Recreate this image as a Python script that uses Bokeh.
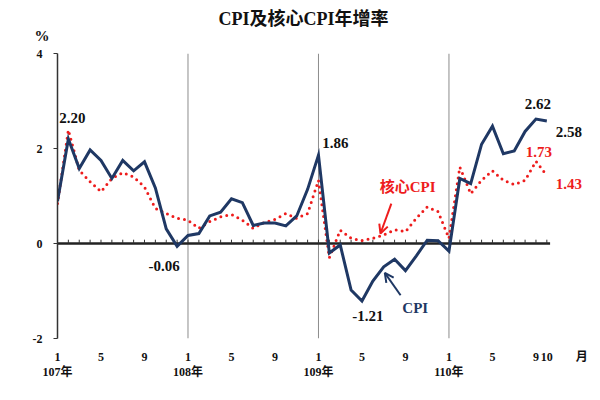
import numpy as np
from bokeh.plotting import figure
from bokeh.models import (ColumnDataSource, Range1d, LinearAxis, FixedTicker,
                          Label, Arrow, OpenHead, Title)
from bokeh.embed import file_html
from bokeh.resources import INLINE

# 107年1月 ... 110年10月, 年增率 (%)
months = list(range(46))
cpi = [0.89, 2.20, 1.58, 1.97, 1.75, 1.37, 1.75, 1.53, 1.72, 1.17, 0.31, -0.06,
       0.17, 0.21, 0.58, 0.66, 0.94, 0.86, 0.38, 0.43, 0.43, 0.37, 0.58, 1.14,
       1.86, -0.20, -0.03, -0.98, -1.21, -0.79, -0.49, -0.33, -0.57, -0.26, 0.07, 0.06,
       -0.16, 1.37, 1.26, 2.09, 2.47, 1.89, 1.95, 2.36, 2.62, 2.58]
core = [0.84, 2.39, 1.54, 1.30, 1.09, 1.37, 1.49, 1.40, 1.19, 0.74, 0.63, 0.53,
        0.49, 0.32, 0.46, 0.56, 0.61, 0.49, 0.32, 0.44, 0.51, 0.63, 0.53, 0.63,
        1.33, -0.30, 0.28, 0.11, 0.06, 0.11, 0.18, 0.29, 0.25, 0.53, 0.77, 0.67,
        0.11, 1.61, 1.05, 1.33, 1.53, 1.33, 1.24, 1.33, 1.73, 1.43]

month_ticks = [0, 4, 8, 12, 16, 20, 24, 28, 32, 36, 40, 44, 45]
month_labels = ["1", "5", "9", "1", "5", "9", "1", "5", "9", "1", "5", "9", "10"]
unit_tick = 48.2            # 「月」字的位置
year_ticks = [0, 12, 24, 36]
year_labels = ["107年", "108年", "109年", "110年"]
y_ticks = [-2, 0, 2, 4]
y_labels = ["-2", "0", "2", "4"]

FONT = "'Liberation Serif', 'Noto Sans CJK TC', serif"
NAVY = "#1F3864"
RED = "#EE1C1C"
INK = "#111111"

source = ColumnDataSource(data={'m': months, 'cpi': cpi, 'core': core})

p = figure(width=592, height=392, output_backend="svg", toolbar_location=None,
           x_range=Range1d(0, 49.2), y_range=Range1d(-2, 4),
           min_border_left=57, min_border_right=0,
           min_border_top=53, min_border_bottom=54)
p.outline_line_color = None
p.grid.visible = False

# 標題 + 單位
p.title.text = "CPI及核心CPI年增率"
p.title.align = "left"
p.title.offset = 161
p.title.text_font = FONT
p.title.text_font_style = "bold"
p.title.text_font_size = "18px"
p.title.text_color = INK
p.title.standoff = -26
p.add_layout(Title(text="%", align="left", offset=-23, standoff=20,
                   text_font=FONT, text_font_style="bold",
                   text_font_size="15px", text_color=INK), "above")

# 左軸
p.yaxis.ticker = FixedTicker(ticks=y_ticks)
p.yaxis.major_label_overrides = {t: s for t, s in zip(y_ticks, y_labels)}
p.yaxis.major_tick_in = 0
p.yaxis.major_tick_out = 4
p.yaxis.minor_tick_line_color = None
p.yaxis.axis_line_width = 1.5
p.yaxis.axis_line_color = "#333333"
p.yaxis.major_tick_line_color = "#333333"
p.yaxis.major_label_standoff = 11
p.yaxis.major_label_text_font = FONT
p.yaxis.major_label_text_font_style = "bold"
p.yaxis.major_label_text_font_size = "12px"
p.yaxis.major_label_text_color = INK

# 月份
xa = p.xaxis[0]
xa.ticker = FixedTicker(ticks=month_ticks + [unit_tick])
overrides = {t: s for t, s in zip(month_ticks, month_labels)}
overrides[unit_tick] = "月"
xa.major_label_overrides = overrides
xa.axis_line_color = None
xa.major_tick_line_color = None
xa.minor_tick_line_color = None
xa.major_tick_out = 0
xa.major_label_standoff = 11
xa.major_label_text_font = FONT
xa.major_label_text_font_style = "bold"
xa.major_label_text_font_size = "12px"
xa.major_label_text_color = INK

# 年份
ya = LinearAxis(ticker=FixedTicker(ticks=year_ticks),
                major_label_overrides={t: s for t, s in zip(year_ticks, year_labels)})
ya.axis_line_color = None
ya.major_tick_line_color = None
ya.minor_tick_line_color = None
ya.major_tick_out = 0
ya.major_label_standoff = -2
ya.major_label_text_font = FONT
ya.major_label_text_font_style = "bold"
ya.major_label_text_font_size = "12px"
ya.major_label_text_color = INK
p.add_layout(ya, "below")

# 年分隔線
p.segment(x0=year_ticks[1:], y0=-2, x1=year_ticks[1:], y1=4,
          line_color="#8C8C8C", line_width=1)

# 零線與月刻度
p.segment(x0=0, y0=0, x1=45.3, y1=0, line_color="#222222", line_width=2.5)
p.segment(x0=months[1:], y0=0, x1=months[1:], y1=0.08,
          line_color="#333333", line_width=1)

# 線
p.line('m', 'core', source=source, line_color=RED, line_width=3,
       line_dash="0 6", line_cap="round")
p.line('m', 'cpi', source=source, line_color=NAVY, line_width=3, line_join="miter")


def note(x, y, text, dx, dy, color=INK, size="15px"):
    p.add_layout(Label(x=x, y=y, text=text, x_offset=dx, y_offset=dy,
                       text_font=FONT, text_font_style="bold",
                       text_font_size=size, text_color=color,
                       text_align="center", text_baseline="middle"))


note(1, cpi[1], f"{cpi[1]:.2f}", 4, 21)
note(11, cpi[11], f"{cpi[11]:.2f}", -13, -20)
note(24, cpi[24], f"{cpi[24]:.2f}", 17, 12)
note(28, cpi[28], f"{cpi[28]:.2f}", 6, -15)
note(44, cpi[44], f"{cpi[44]:.2f}", 2, 15)
note(45, cpi[45], f"{cpi[45]:.2f}", 22, -11)
note(44, core[44], f"{core[44]:.2f}", 3, 9, color=RED)
note(45, core[45], f"{core[45]:.2f}", 22, -8, color=RED)

# 系列標示
note(32.9, -1.35, "CPI", 0, 0, color=NAVY)
p.add_layout(Arrow(end=OpenHead(size=9, line_color=NAVY, line_width=2),
                   x_start=31.55, y_start=-1.09, x_end=30.1, y_end=-0.62,
                   line_color=NAVY, line_width=2))
note(32.2, 1.18, "核心CPI", 0, 0, color=RED)
p.add_layout(Arrow(end=OpenHead(size=9, line_color=RED, line_width=2),
                   x_start=30.7, y_start=0.84, x_end=29.7, y_end=0.21,
                   line_color=RED, line_width=2))

open("out.html", "w").write(file_html(p, INLINE))
